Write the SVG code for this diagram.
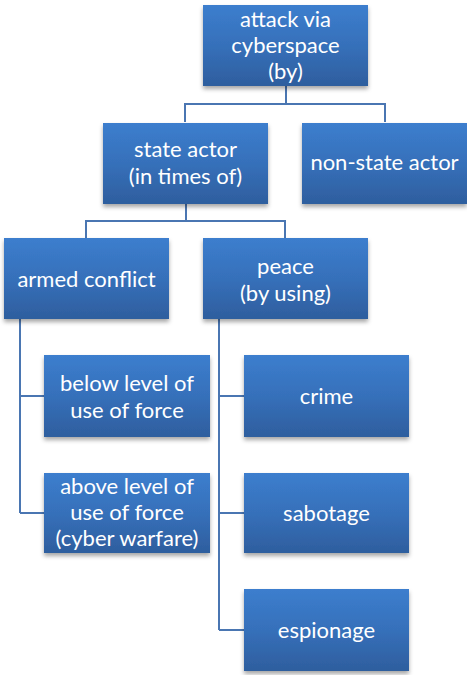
<svg xmlns="http://www.w3.org/2000/svg" width="467" height="675" viewBox="0 0 467 675">
<defs>
<linearGradient id="g" x1="0" y1="0" x2="0" y2="1">
<stop offset="0" stop-color="#3C7ECE"/>
<stop offset="0.5" stop-color="#3670BA"/>
<stop offset="1" stop-color="#2E5E9E"/>
</linearGradient>
<filter id="sh" x="-10%" y="-10%" width="120%" height="130%">
<feDropShadow dx="0" dy="3" stdDeviation="2" flood-color="#000" flood-opacity="0.35"/>
</filter>
</defs>
<style>
.box{fill:url(#g);filter:url(#sh);}
.t{font-family:Lato,"Open Sans","Liberation Sans",sans-serif;font-size:22px;fill:#fff;text-anchor:middle;}
.c{fill:none;stroke:#4A76B2;stroke-width:2;}
</style>
<g id="connectors">
<path class="c" d="M286,86 V104 M185,122 V104 H385 V122"/>
<path class="c" d="M186,204 V221 M86,238 V221 H285 V238"/>
<path class="c" d="M20,319 V513 M20,396 H44 M20,513 H44"/>
<path class="c" d="M219,319 V630 M219,396 H244 M219,513 H244 M219,630 H244"/>
</g>
<g id="root"><rect class="box" x="203" y="5" width="165" height="81"/>
<text class="t" x="285.5" y="27">attack via</text><text class="t" x="285.5" y="53">cyberspace</text><text class="t" x="285.5" y="79">(by)</text></g>
<g id="state"><rect class="box" x="103" y="123" width="165" height="81"/>
<text class="t" x="185.5" y="157">state actor</text><text class="t" x="185.5" y="184">(in times of)</text></g>
<g id="nonstate"><rect class="box" x="302" y="123" width="165" height="81"/>
<text class="t" x="384.5" y="170">non-state actor</text></g>
<g id="armed"><rect class="box" x="4" y="238" width="165" height="81"/>
<text class="t" x="86.5" y="287">armed conflict</text></g>
<g id="peace"><rect class="box" x="203" y="238" width="165" height="81"/>
<text class="t" x="285.5" y="274">peace</text><text class="t" x="285.5" y="301">(by using)</text></g>
<g id="below"><rect class="box" x="44" y="355" width="166" height="82"/>
<text class="t" x="127" y="391">below level of</text><text class="t" x="127" y="418">use of force</text></g>
<g id="above"><rect class="box" x="44" y="473" width="166" height="80"/>
<text class="t" x="127" y="494">above level of</text><text class="t" x="127" y="520">use of force</text><text class="t" x="127" y="546">(cyber warfare)</text></g>
<g id="crime"><rect class="box" x="244" y="355" width="165" height="82"/>
<text class="t" x="326.5" y="404">crime</text></g>
<g id="sabotage"><rect class="box" x="244" y="473" width="165" height="80"/>
<text class="t" x="326.5" y="521">sabotage</text></g>
<g id="espionage"><rect class="box" x="244" y="589" width="165" height="82"/>
<text class="t" x="326.5" y="638">espionage</text></g>
</svg>
